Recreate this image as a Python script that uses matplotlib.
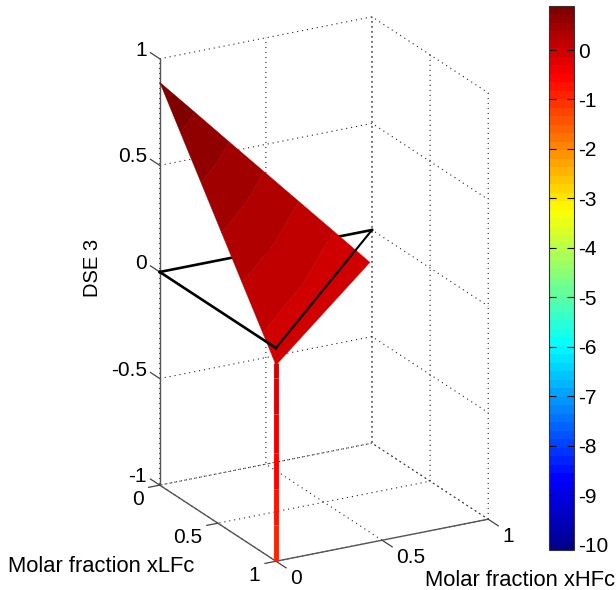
import matplotlib
matplotlib.use('Agg')
from matplotlib import pyplot as plt
from matplotlib.cm import ScalarMappable
from matplotlib.colors import LinearSegmentedColormap, Normalize
from mpl_toolkits.mplot3d import proj3d
from mpl_toolkits.mplot3d.art3d import Poly3DCollection

plt.rcParams['font.family'] = ['Liberation Sans', 'DejaVu Sans']
plt.rcParams['axes.unicode_minus'] = False
plt.rcParams['grid.linestyle'] = (0, (1, 3.5))
plt.rcParams['grid.linewidth'] = 0.8
plt.rcParams['grid.color'] = '#222222'

# axis ticks
x_ticks = [0, 0.5, 1]
y_ticks = [0, 0.5, 1]
z_ticks = [-1, -0.5, 0, 0.5, 1]
xy_labels = ['0', '0.5', '1']
z_labels = ['-1', '-0.5', '0', '0.5', '1']
cbar_ticks = [-10, -9, -8, -7, -6, -5, -4, -3, -2, -1, 0]

# surface read as colour bands: level of each band border and where it hits the edges
band_z = [0.89, 0.718, 0.546, 0.374, 0.202, 0.03]
edge_x = [0.0, 0.164, 0.327, 0.491, 0.655, 0.819]
edge_y = [0.0, 0.177, 0.355, 0.532, 0.709, 0.887]
mid_x = [0.0, 0.085, 0.17, 0.255, 0.341, 0.426]
mid_y = [0.0, 0.092, 0.185, 0.277, 0.369, 0.461]
# lower rim of the surface
rim_x = [0.99, 0.5, 0.0]
rim_y = [0.0, 0.49, 1.0]
rim_z = [-0.15, -0.12, -0.08]

# spike at xHFc=0, xLFc=1
spike_z = [-0.07, -0.14, -0.31, -0.49, -0.66, -0.83, -1.0]

# simplex outline at DSE=0
tri_x = [0, 1, 0]
tri_y = [0, 0, 1]
tri_z = [0, 0, 0]

c_min, c_max = -10.11, 0.89
jet_anchors = [(0, (0, 0, 0.5625)), (0.125, (0, 0, 1)), (0.375, (0, 1, 1)),
               (0.625, (1, 1, 0)), (0.875, (1, 0, 0)), (1, (0.5, 0, 0))]

fig = plt.figure(figsize=(6.16, 5.9), dpi=100)
ax = fig.add_axes([39.5 / 616, 16.5 / 590, 554 / 616, 554 / 590], projection='3d', proj_type='ortho',
                  computed_zorder=False)
ax.patch.set_visible(False)
ax.set_box_aspect((242, 241, 456.6))
ax.view_init(elev=21.1, azim=-118.8)
ax.set_xlim(0, 1)
ax.set_ylim(1, 0)
ax.set_zlim(-1, 1)
ax.set_xticks(x_ticks, labels=[])
ax.set_yticks(y_ticks, labels=[])
ax.set_zticks(z_ticks, labels=[])
for axis in (ax.xaxis, ax.yaxis, ax.zaxis):
    axis.set_pane_color((1, 1, 1, 0))
    axis.pane.set_edgecolor('none')
    axis.line.set_color('#555555')
    axis.line.set_linewidth(1.0)
    # mplot3d ticks point inwards here, the ones below are drawn by hand
    axis._axinfo['tick']['inward_factor'] = 0
    axis._axinfo['tick']['outward_factor'] = 0

tick_col = '#444444'
tick_lw = 0.9
tick_fs = 15
label_fs = 15.8


def tick_label(x, y, z, text, offset, ha):
    # matlab keeps a fixed pixel distance between tick and label
    px, py, _ = proj3d.proj_transform(x, y, z, ax.get_proj())
    ax.annotate(text, xy=(px, py), xytext=offset, textcoords='offset pixels', fontsize=tick_fs,
                ha=ha, va='center', annotation_clip=False)


for xt, lab in zip(x_ticks, xy_labels):
    ax.plot([xt, xt], [1, 1.087], [-1, -1], color=tick_col, lw=tick_lw, clip_on=False)
    tick_label(xt, 1, -1, lab, (14, -17), 'left')
for yt, lab in zip(y_ticks, xy_labels):
    ax.plot([0, -0.052], [yt, yt], [-1, -1], color=tick_col, lw=tick_lw, clip_on=False)
    tick_label(0, yt, -1, lab, (-16, -14), 'right')
for zt, lab in zip(z_ticks, z_labels):
    ax.plot([0, 0], [0, -0.08], [zt, zt], color=tick_col, lw=tick_lw, clip_on=False)
    tick_label(0, 0, zt, lab, (-13, 8.5), 'right')

cmap = LinearSegmentedColormap.from_list('matlab_jet', jet_anchors, N=64)
norm = Normalize(c_min, c_max)

# back edge of the triangle goes under the surface
ax.plot(tri_x[:2], tri_y[:2], tri_z[:2], color='k', lw=1.9, zorder=2)

polys = []
values = []
for i in range(len(band_z)):
    if i < len(band_z) - 1:
        lower = [(edge_x[i + 1], 0, band_z[i + 1]), (mid_x[i + 1], mid_y[i + 1], band_z[i + 1]),
                 (0, edge_y[i + 1], band_z[i + 1])]
        low_val = band_z[i + 1]
    else:
        lower = list(zip(rim_x, rim_y, rim_z))
        low_val = rim_z[0]
    upper = [(0, edge_y[i], band_z[i]), (mid_x[i], mid_y[i], band_z[i]), (edge_x[i], 0, band_z[i])]
    polys.append(lower + upper)
    values.append((band_z[i] + low_val) / 2)
surf = Poly3DCollection(polys, facecolors=cmap(norm(values)), edgecolors=cmap(norm(values)), linewidths=0.3,
                        zorder=3)
ax.add_collection3d(surf)

for i in range(len(spike_z) - 1):
    val = (spike_z[i] + spike_z[i + 1]) / 2
    ax.plot([0, 0], [1, 1], spike_z[i:i + 2], color=cmap(norm(val)), lw=3.5, solid_capstyle='butt', zorder=4)

# the other two edges lie on top
ax.plot(tri_x[1:], tri_y[1:], tri_z[1:], color='k', lw=1.5, zorder=5)
ax.plot([tri_x[2], tri_x[0]], [tri_y[2], tri_y[0]], [tri_z[2], tri_z[0]], color='k', lw=1.9, zorder=5)

fig.text(8 / 616, 1 - 566 / 590, 'Molar fraction xLFc', fontsize=label_fs, va='center')
fig.text(425 / 616, 1 - 581 / 590, 'Molar fraction xHFc', fontsize=label_fs, va='center')
fig.text(93 / 616, 1 - 268 / 590, 'DSE 3', fontsize=14.5, rotation=90, va='center', ha='center')

cax = fig.add_axes([549 / 616, 1 - 550 / 590, 25 / 616, 544 / 590])
cb = fig.colorbar(ScalarMappable(norm=norm, cmap=cmap), cax=cax, ticks=cbar_ticks)
cb.ax.tick_params(direction='in', left=True, right=True, length=5, width=0.8, labelsize=tick_fs, pad=3)
cb.outline.set_edgecolor('#333333')
cb.outline.set_linewidth(0.8)

fig.savefig('out.png', dpi=100)
